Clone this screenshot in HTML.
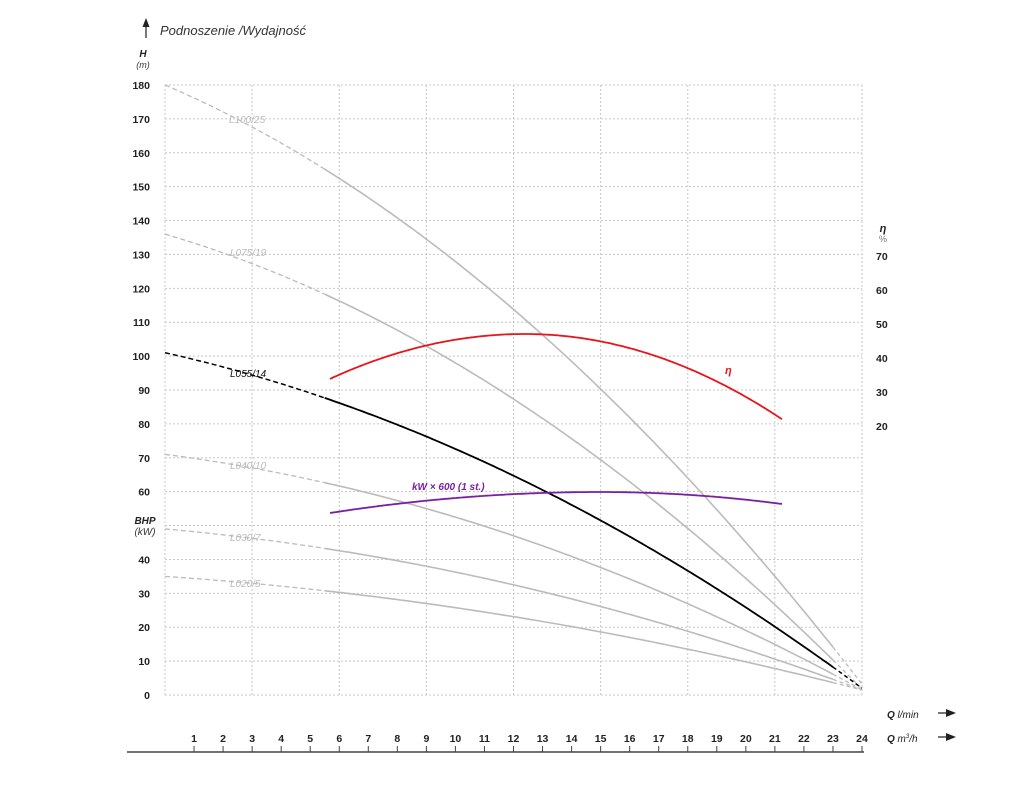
<!DOCTYPE html>
<html><head><meta charset="utf-8"><style>
body{margin:0;background:#fff}
svg{display:block}
text{font-family:"Liberation Sans",sans-serif}
.t{font-size:10.5px;font-weight:bold;fill:#222}
</style></head><body>
<svg id="s" width="1024" height="786" viewBox="0 0 1024 786">
<g id="grid" stroke="#c8c8c8" stroke-width="1" stroke-dasharray="2,2"></g>
<g id="lbl"></g>
<g id="curves" fill="none"></g>
<path d="M146,38 V24" stroke="#222" stroke-width="1.2"/>
<polygon points="146,18 142.5,27 149.5,27" fill="#222"/>
<text x="160" y="35" font-size="13" font-style="italic" fill="#333">Podnoszenie /Wydajność</text>
<text x="143" y="57" font-size="10" font-weight="bold" font-style="italic" text-anchor="middle" fill="#222">H</text>
<text x="143" y="68" font-size="9" font-style="italic" text-anchor="middle" fill="#333">(m)</text>
<text x="145" y="524" font-size="10" font-weight="bold" font-style="italic" text-anchor="middle" fill="#222">BHP</text>
<text x="145" y="535" font-size="10" font-style="italic" text-anchor="middle" fill="#333">(kW)</text>
<text x="883" y="232" font-size="11" font-weight="bold" font-style="italic" text-anchor="middle" fill="#222">η</text>
<text x="883" y="242" font-size="9" text-anchor="middle" fill="#777">%</text>
<text x="229" y="123" font-size="10" font-style="italic" fill="#bbb">L100/25</text>
<text x="230" y="256" font-size="10" font-style="italic" fill="#bbb">L075/19</text>
<text x="230" y="377" font-size="10" font-style="italic" fill="#111">L055/14</text>
<text x="230" y="469" font-size="10" font-style="italic" fill="#bbb">L040/10</text>
<text x="230" y="541" font-size="10" font-style="italic" fill="#bbb">L030/7</text>
<text x="230" y="587" font-size="10" font-style="italic" fill="#bbb">L020/5</text>
<text x="725" y="374" font-size="11" font-weight="bold" font-style="italic" fill="#e8141b">η</text>
<text x="412" y="490" font-size="10" font-weight="bold" font-style="italic" fill="#7a1fa0">kW × 600 (1 st.)</text>
<line x1="127" y1="752" x2="864" y2="752" stroke="#444" stroke-width="1.5"/>
<text x="887" y="718" font-size="10" font-style="italic" fill="#222"><tspan font-weight="bold">Q</tspan> l/min</text>
<text x="887" y="742" font-size="10" font-style="italic" fill="#222"><tspan font-weight="bold">Q</tspan> m<tspan font-size="6" dy="-4">3</tspan><tspan dy="4">/h</tspan></text>
<path d="M938,713 H952 M938,737 H952" stroke="#222" stroke-width="1.2"/>
<polygon points="956,713 946,709 946,717" fill="#222"/>
<polygon points="956,737 946,733 946,741" fill="#222"/>
</svg>
<script>
var NS="http://www.w3.org/2000/svg";
function el(p,n,a,t){var e=document.createElementNS(NS,n);for(var k in a)e.setAttribute(k,a[k]);if(t!=null)e.textContent=t;document.getElementById(p).appendChild(e);return e;}
var X=function(q){return 165+q*(697/24)};var Y=function(h){return 695-h*3.389};
for(var i=0;i<=8;i++){var x=165+i*697/8;el("grid","line",{x1:x,y1:85,x2:x,y2:695});}
for(var h=0;h<=180;h+=10){el("grid","line",{x1:165,y1:Y(h),x2:862,y2:Y(h)});
 if(h!=50)el("lbl","text",{x:150,y:Y(h)+4,"text-anchor":"end","class":"t"},h);}
for(var e=20;e<=70;e+=10){el("lbl","text",{x:876,y:426-(e-20)*3.4+4,"class":"t"},e);}
for(var q=1;q<=24;q++){el("lbl","text",{x:X(q),y:742,"text-anchor":"middle","class":"t"},q);
 el("lbl","line",{x1:X(q),y1:746,x2:X(q),y2:752,stroke:"#444","stroke-width":1});}
var C=[[180,3.67,0.154,"#bbb",1.6],[136,2.52,0.128,"#bbb",1.6],[71,1.107,0.0745,"#bbb",1.6],[49,0.768,0.0505,"#bbb",1.6],[35,0.585,0.0338,"#bbb",1.6],[101,1.922,0.0918,"#000",1.8]];
function pts(f,a,b){var s=[];for(var q=a;q<=b+1e-6;q+=0.1)s.push(X(q).toFixed(1)+","+Y(f(q)).toFixed(1));return s.join(" ");}
C.forEach(function(c){var f=function(q){return c[0]-c[1]*q-c[2]*q*q};
 el("curves","polyline",{points:pts(f,0,5.5),stroke:c[3],"stroke-width":c[4]-0.3,"stroke-dasharray":"5,3"});
 el("curves","polyline",{points:pts(f,5.5,23),stroke:c[3],"stroke-width":c[4]});
 el("curves","polyline",{points:pts(f,23,24),stroke:c[3],"stroke-width":c[4]-0.3,"stroke-dasharray":"4,3"});});
function arc(x0,x1,xp,yp,kl,kr,col){var s=[];for(var x=x0;x<=x1;x+=2){var k=x<xp?kl:kr;s.push(x+","+(yp+k*(x-xp)*(x-xp)).toFixed(1));}
 el("curves","polyline",{points:s.join(" "),stroke:col,"stroke-width":1.8});}
arc(330,782,525,334,0.00118,0.00129,"#e8141b");
arc(330,782,600,492,0.000288,0.000362,"#7a1fa0");
</script>
</body></html>
